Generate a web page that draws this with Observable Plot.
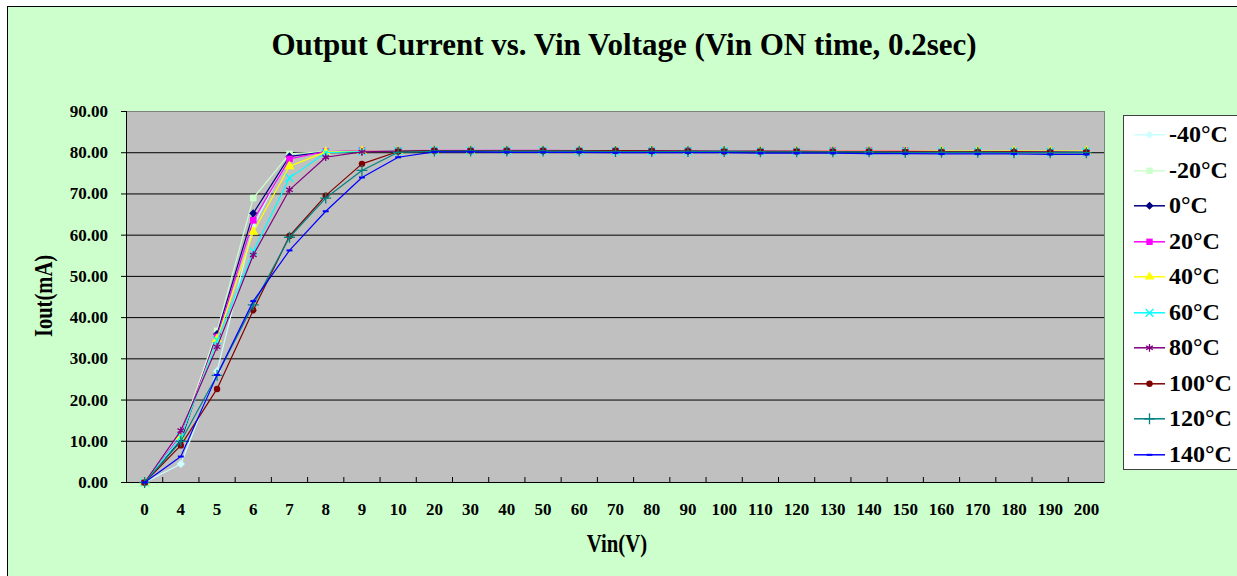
<!DOCTYPE html>
<html><head><meta charset="utf-8">
<script src="https://cdn.jsdelivr.net/npm/d3@7"></script>
<script src="https://cdn.jsdelivr.net/npm/@observablehq/plot@0.6"></script>
<style>
body{margin:0;background:#fff;}
#chart{position:relative;width:1237px;height:576px;overflow:hidden;font-family:"Liberation Serif","Times New Roman",serif;font-weight:bold;color:#000;}
#frame{position:absolute;left:7px;top:6px;width:1260px;height:600px;background:#CCFFCC;border:1px solid #000;}
#title{position:absolute;left:624px;top:30px;transform:translateX(-50%);font-size:31px;line-height:30px;white-space:nowrap;}
#xlabel{position:absolute;left:617px;top:531px;font-size:26px;line-height:26px;white-space:nowrap;transform:translateX(-50%) scaleX(0.8);}
#ylabel{position:absolute;left:44px;top:296px;font-size:26px;line-height:26px;white-space:nowrap;transform:translate(-50%,-50%) rotate(-90deg) scaleX(0.79);}
#plot{position:absolute;left:0;top:0;}
#legend{position:absolute;left:1123px;top:115px;width:130px;height:355px;background:#fff;border:1px solid #404040;box-sizing:border-box;padding-top:1px;}
.row{position:relative;height:35.56px;}
.row svg{position:absolute;left:9px;top:0;}
.row span{position:absolute;left:45px;top:0;font-size:24px;line-height:35.56px;white-space:nowrap;}
</style></head>
<body>
<div id="chart">
  <div id="frame"></div>
  <div id="title">Output Current vs. Vin Voltage (Vin ON time, 0.2sec)</div>
  <div id="plot"></div>
  <div id="ylabel">Iout(mA)</div>
  <div id="xlabel">Vin(V)</div>
  <div id="legend"></div>
</div>
<script>
const cats = ["0","4","5","6","7","8","9","10","20","30","40","50","60","70","80","90","100","110","120","130","140","150","160","170","180","190","200"];
const yTicks = [0,10,20,30,40,50,60,70,80,90];
const temps = ["-40°C","-20°C","0°C","20°C","40°C","60°C","80°C","100°C","120°C","140°C"];
const colors = ["#CCFFFF","#CCFFCC","#000080","#FF00FF","#FFFF00","#00FFFF","#800080","#800000","#008080","#0000FF"];
const symbols = ["diamond2","square","diamond2","square","triangle","times","asterisk","circle","plus","dash"];

const iM40 = [0.0,4.5,27.0,62.2,79.3,80.2,80.4,80.4,80.5,80.5,80.5,80.5,80.5,80.4,80.4,80.4,80.3,80.3,80.3,80.3,80.3,80.3,80.3,80.2,80.2,80.2,80.1];
const iM20 = [0.0,11.8,36.8,69.0,79.7,80.3,80.4,80.5,80.6,80.6,80.5,80.5,80.5,80.5,80.5,80.4,80.4,80.4,80.4,80.4,80.3,80.3,80.3,80.3,80.2,80.2,80.2];
const i0   = [0.0,10.2,36.0,65.3,79.1,80.2,80.4,80.5,80.5,80.5,80.5,80.5,80.5,80.5,80.4,80.4,80.4,80.4,80.3,80.3,80.3,80.3,80.2,80.2,80.2,80.1,80.1];
const i20  = [0.0,11.5,35.3,63.6,78.5,80.3,80.5,80.5,80.6,80.6,80.6,80.6,80.5,80.5,80.5,80.5,80.4,80.4,80.4,80.5,80.5,80.5,80.3,80.3,80.3,80.3,80.2];
const i40  = [0.0,11.0,34.8,60.8,76.7,80.2,80.4,80.4,80.5,80.5,80.5,80.5,80.5,80.5,80.5,80.4,80.4,80.4,80.4,80.4,80.4,80.4,80.4,80.4,80.4,80.4,80.4];
const i60  = [0.0,11.0,34.5,56.1,73.9,80.0,80.3,80.4,80.5,80.5,80.5,80.5,80.4,80.4,80.4,80.4,80.4,80.3,80.3,80.3,80.3,80.3,80.3,80.3,80.2,80.2,80.2];
const i80  = [0.0,12.6,32.9,55.2,71.0,78.9,80.2,80.4,80.5,80.5,80.5,80.5,80.5,80.5,80.5,80.4,80.4,80.4,80.4,80.3,80.3,80.3,80.2,80.2,80.2,80.2,80.1];
const i100 = [0.0,9.0,22.7,41.8,59.8,69.6,77.3,80.3,80.5,80.5,80.5,80.5,80.5,80.5,80.4,80.4,80.3,80.3,80.3,80.3,80.3,80.2,80.2,80.2,80.2,80.1,80.1];
const i120 = [0.0,10.0,26.0,43.1,59.5,69.0,75.7,80.1,80.4,80.4,80.4,80.4,80.4,80.3,80.3,80.3,80.3,80.2,80.2,80.2,80.2,80.1,80.1,80.1,80.0,80.0,80.0];
const i140 = [0.0,6.3,26.1,44.0,56.3,65.8,74.0,78.9,80.2,80.2,80.1,80.1,80.1,80.0,80.0,80.0,80.0,79.9,79.9,79.9,79.8,79.8,79.7,79.7,79.7,79.6,79.6];
const series = [iM40,iM20,i0,i20,i40,i60,i80,i100,i120,i140];

const W = 1237, H = 576, mL = 126, mR = 133, mT = 111, mB = 94;
const plotW = W - mL - mR;
const step = plotW / cats.length;
const plotH = H - mT - mB;

const dash = {draw(ctx, size){ const w = Math.sqrt(size) * 0.45; ctx.moveTo(-w,-1); ctx.lineTo(w,-1); ctx.lineTo(w,1); ctx.lineTo(-w,1); ctx.closePath(); }};
const strokeSyms = new Set(["times","asterisk","plus"]);
function sym(s){ return s === "dash" ? dash : s; }

const marks = [
  Plot.frame({fill:"#C0C0C0", stroke:"#808080"}),
  Plot.ruleY(yTicks.filter(d => d > 0 && d < 90), {stroke:"#000"}),
  Plot.ruleY([0], {stroke:"#000"}),
  Plot.ruleX([cats[0]], {dx: -step/2, stroke:"#000"}),
  Plot.tickX(cats.slice(1), {x: d => d, dx: -step/2, insetTop: plotH - 5, stroke:"#000"}),
  Plot.tickY(yTicks, {y: d => d, insetLeft: -5, insetRight: plotW, stroke:"#000"}),
  Plot.text(yTicks, {y: d => d, text: d => d3.format(".2f")(d), frameAnchor: "left", textAnchor: "end", dx: -18.5, fontSize: 17, fontWeight: "bold", fill: "#000"}),
  Plot.axisX({tickSize: 0, tickPadding: 20, fontSize: 17, label: null})
];
series.forEach((vals, k) => {
  const d = vals.map((v, i) => ({v: cats[i], i: v}));
  marks.push(Plot.line(d, {x:"v", y:"i", stroke: colors[k], strokeWidth: 1.2}));
  const s = symbols[k];
  if (strokeSyms.has(s)) {
    marks.push(Plot.dot(d, {x:"v", y:"i", symbol: sym(s), r: 3.6, stroke: colors[k], strokeWidth: 1.3}));
  } else {
    marks.push(Plot.dot(d, {x:"v", y:"i", symbol: sym(s), r: s === "circle" ? 3.2 : 3.7, fill: colors[k], stroke: "none"}));
  }
});

const chart = Plot.plot({
  width: W, height: H,
  marginLeft: mL, marginRight: mR, marginTop: mT, marginBottom: mB,
  x: {type: "point", domain: cats, padding: 0.5, round: false},
  y: {domain: [0, 90], nice: false, axis: null},
  style: {fontFamily: "'Liberation Serif','Times New Roman',serif", fontWeight: "bold", background: "transparent", color: "#000", overflow: "visible"},
  marks
});
document.getElementById("plot").appendChild(chart);

// legend
const leg = d3.select("#legend");
temps.forEach((t, k) => {
  const row = leg.append("div").attr("class","row");
  const svg = row.append("svg").attr("width", 34).attr("height", 35.56);
  svg.append("line").attr("x1", 1).attr("x2", 32).attr("y1", 17.8).attr("y2", 17.8).attr("stroke", colors[k]).attr("stroke-width", 1.5);
  const s = symbols[k];
  const typeMap = {diamond2: d3.symbolDiamond2, square: d3.symbolSquare, triangle: d3.symbolTriangle, times: d3.symbolTimes, asterisk: d3.symbolAsterisk, circle: d3.symbolCircle, plus: d3.symbolPlus, dash: dash};
  const r = s === "circle" ? 3.2 : 3.6;
  const p = svg.append("path").attr("transform", "translate(16.5,17.8)").attr("d", d3.symbol(typeMap[s], r*r*Math.PI)());
  if (strokeSyms.has(s)) p.attr("fill","none").attr("stroke", colors[k]).attr("stroke-width", 1.3);
  else p.attr("fill", colors[k]);
  row.append("span").text(t);
});
</script>
</body></html>
